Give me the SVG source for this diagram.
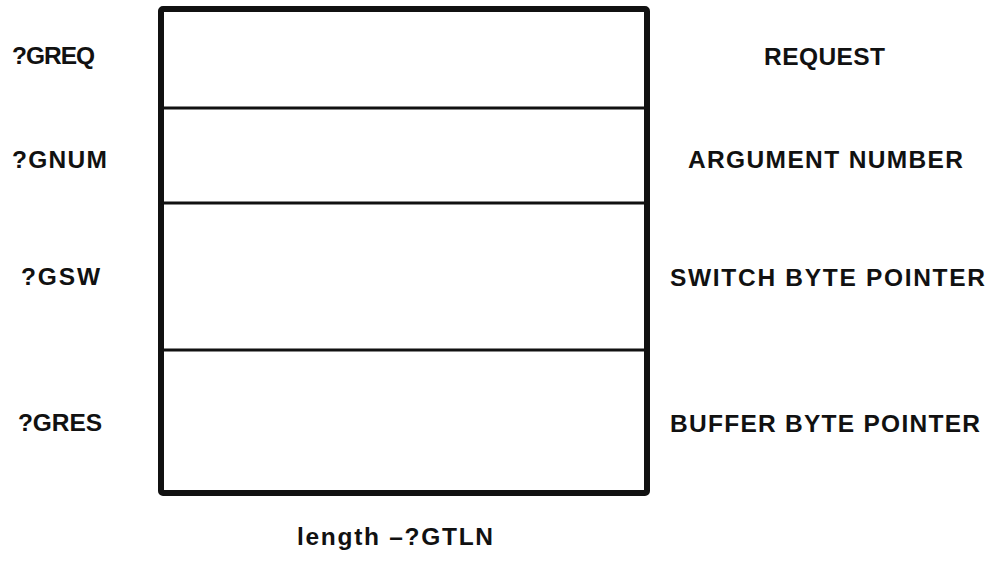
<svg xmlns="http://www.w3.org/2000/svg" width="994" height="564" viewBox="0 0 994 564">
  <style>
    .lbl { font-family: "Liberation Sans", Arial, sans-serif; font-weight: bold; font-size: 24.5px; fill: #111; }
    .frame { fill: none; stroke: #111; stroke-width: 6; stroke-linejoin: round; }
    .div { stroke: #111; stroke-width: 3; }
  </style>
  <rect width="994" height="564" fill="#fff"/>

  <!-- packet frame -->
  <g id="packet">
    <rect class="frame" x="161" y="9" width="486" height="484" rx="2"/>
  </g>

  <!-- word dividers -->
  <g id="dividers">
    <line class="div" x1="161" y1="108" x2="647" y2="108"/>
    <line class="div" x1="161" y1="203" x2="647" y2="203"/>
    <line class="div" x1="161" y1="350" x2="647" y2="350"/>
  </g>

  <g id="word-greq">
    <text class="lbl" x="12" y="64" textLength="83" lengthAdjust="spacing">?GREQ</text>
    <text class="lbl" x="764" y="65" textLength="121" lengthAdjust="spacing">REQUEST</text>
  </g>
  <g id="word-gnum">
    <text class="lbl" x="12" y="168" textLength="95" lengthAdjust="spacing">?GNUM</text>
    <text class="lbl" x="688" y="168" textLength="275" lengthAdjust="spacing">ARGUMENT NUMBER</text>
  </g>
  <g id="word-gsw">
    <text class="lbl" x="21" y="285" textLength="79" lengthAdjust="spacing">?GSW</text>
    <text class="lbl" x="670" y="286" textLength="315" lengthAdjust="spacing">SWITCH BYTE POINTER</text>
  </g>
  <g id="word-gres">
    <text class="lbl" x="18" y="431" textLength="84" lengthAdjust="spacing">?GRES</text>
    <text class="lbl" x="670" y="432" textLength="310" lengthAdjust="spacing">BUFFER BYTE POINTER</text>
  </g>

  <g id="caption">
    <text class="lbl" x="297" y="545" textLength="196" lengthAdjust="spacing">length –?GTLN</text>
  </g>
</svg>
